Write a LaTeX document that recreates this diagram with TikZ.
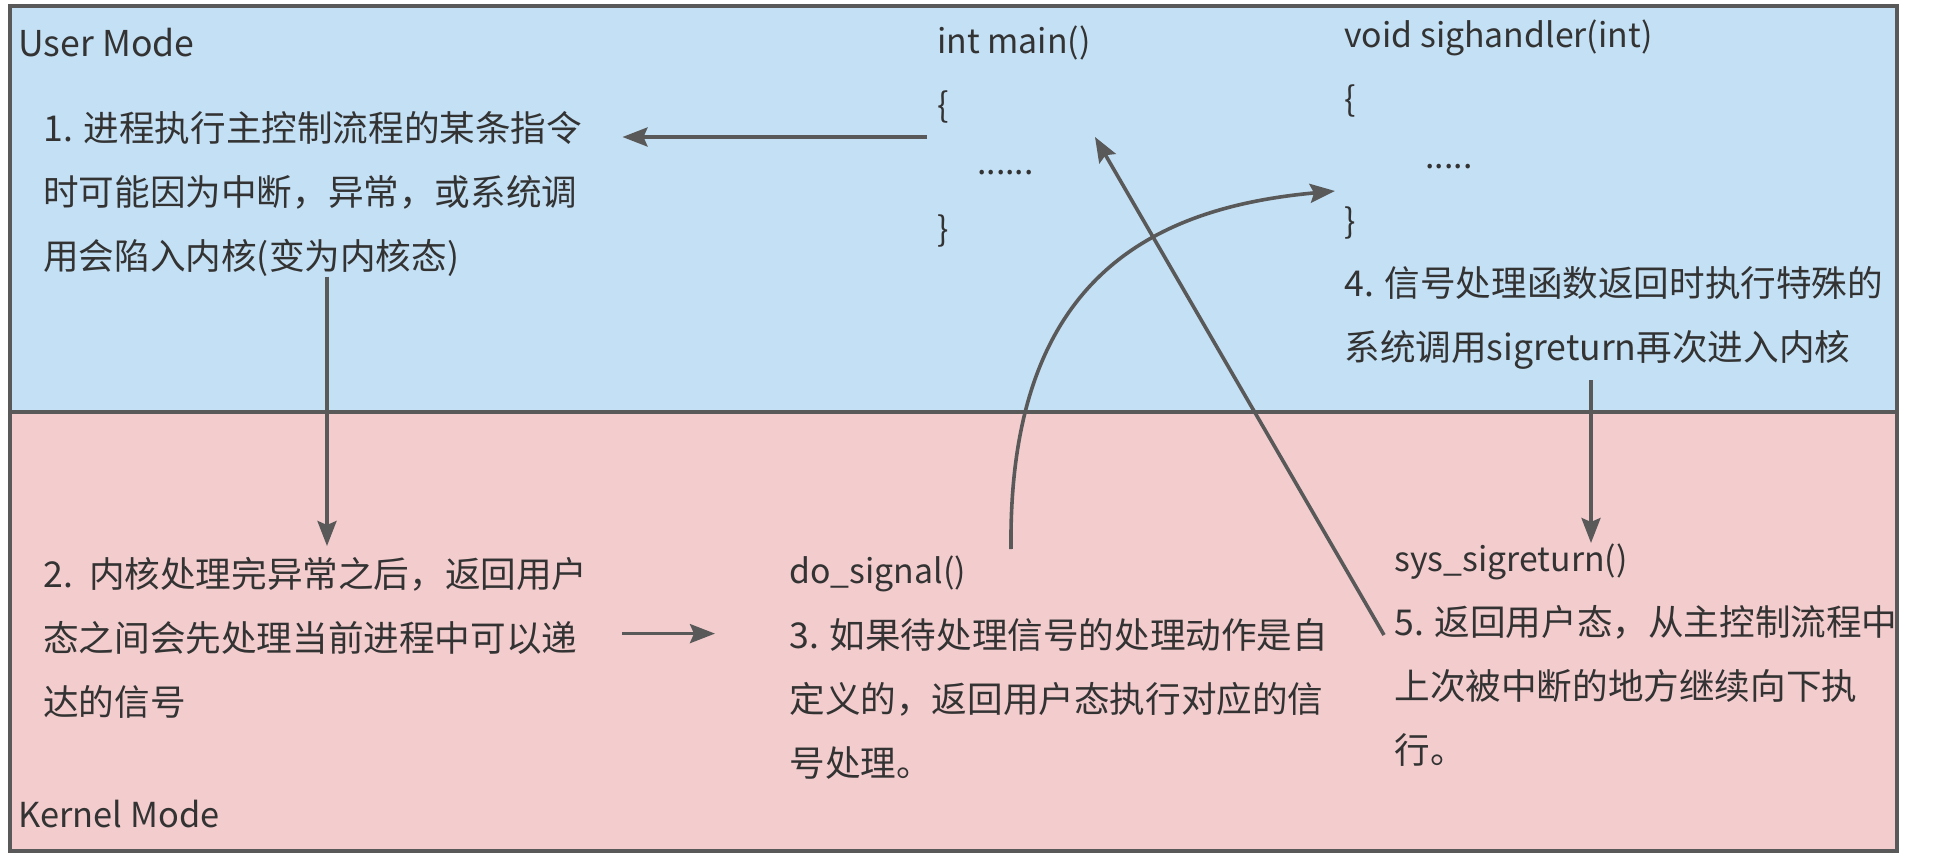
\documentclass[tikz,border=0pt]{standalone}
\usepackage{fontspec}
\setmainfont{Noto Sans CJK SC}
\usepackage{xcolor}
\usetikzlibrary{arrows.meta,calc,positioning}
\definecolor{userblue}{HTML}{C4E0F4}
\definecolor{kernpink}{HTML}{F3CCCE}
\definecolor{edgegray}{HTML}{595959}
\definecolor{txtgray}{HTML}{333333}

\begin{document}
\begin{tikzpicture}[x=0.5pt,y=-0.5pt,
  lbl/.style={anchor=west,inner sep=0pt,text=txtgray,font=\fontsize{17.8pt}{32pt}\selectfont},
  code/.style={lbl,font=\fontsize{16.9pt}{32pt}\selectfont},
  para/.style={lbl,align=left},
  arr/.style={-{Stealth[length=12.5pt,width=9.5pt,inset=2pt]},line width=1.8pt,draw=edgegray}]
\useasboundingbox (0,0) rectangle (1934,857);
\fill[userblue] (10,6) rectangle (1897,412);
\fill[kernpink] (10,412) rectangle (1897,851);
\draw[edgegray,line width=1.7pt] (10,6) rectangle (1897,851);
\draw[edgegray,line width=1.7pt] (10,412) -- (1897,412);

% user mode side
\node[lbl] (user) at (18,43) {User Mode};
\node[para] (t1) at (43,193.6) {1. 进程执行主控制流程的某条指令\\时可能因为中断，异常，或系统调\\用会陷入内核(变为内核态)};
\node[code] (main) at (937,43) {int main()};
\node[code] (mlb) at (937,107) {\{};
\node[code] (mdots) at (977,173) {......};
\node[code] (mrb) at (937,231) {\}};
\node[code] (sh) at (1344,38) {void sighandler(int)};
\node[code] (slb) at (1344,101) {\{};
\node[code] (sdots) at (1425,167) {.....};
\node[code] (srb) at (1344,223) {\}};
\node[para] (t4) at (1344,318) {4. 信号处理函数返回时执行特殊的\\系统调用sigreturn再次进入内核};

% kernel mode side
\node[lbl,font=\fontsize{17.2pt}{32pt}\selectfont] (kern) at (18,814) {Kernel Mode};
\node[para] (t2) at (43,637.6) {2.\ \ 内核处理完异常之后，返回用户\\态之间会先处理当前进程中可以递\\达的信号};
\node[code] (ds) at (789,573.5) {do\_signal()};
\node[para] (t3) at (789,699) {3. 如果待处理信号的处理动作是自\\定义的，返回用户态执行对应的信\\号处理。};
\node[code] (sys) at (1394,562) {sys\_sigreturn()};
\node[para] (t5) at (1394,686) {5. 返回用户态，从主控制流程中\\上次被中断的地方继续向下执\\行。};

% arrows
\coordinate (a1) at (927,137);
\draw[arr] (a1) -- ($(t1.east |- a1)+(40,0)$);
\coordinate (a2) at (327,546);
\draw[arr] (t1.south -| a2) -- (a2);
\draw[arr] ($(t2.east)+(34,-4)$) -- ($(t3.west |- t2.east)+(-74,-4)$);
\coordinate (c0) at (1011,549);
\coordinate (c1) at (1335,191);
\draw[arr] (c0) .. controls (1008,280) and (1150,208) .. (c1);
\coordinate (b0) at (1384,635);
\coordinate (b1) at (1095,137);
\draw[arr] (b0) -- (b1);
\coordinate (d0) at (1591,380);
\coordinate (d1) at (1591,543);
\draw[arr] (d0) -- (d1);
\end{tikzpicture}
\end{document}
